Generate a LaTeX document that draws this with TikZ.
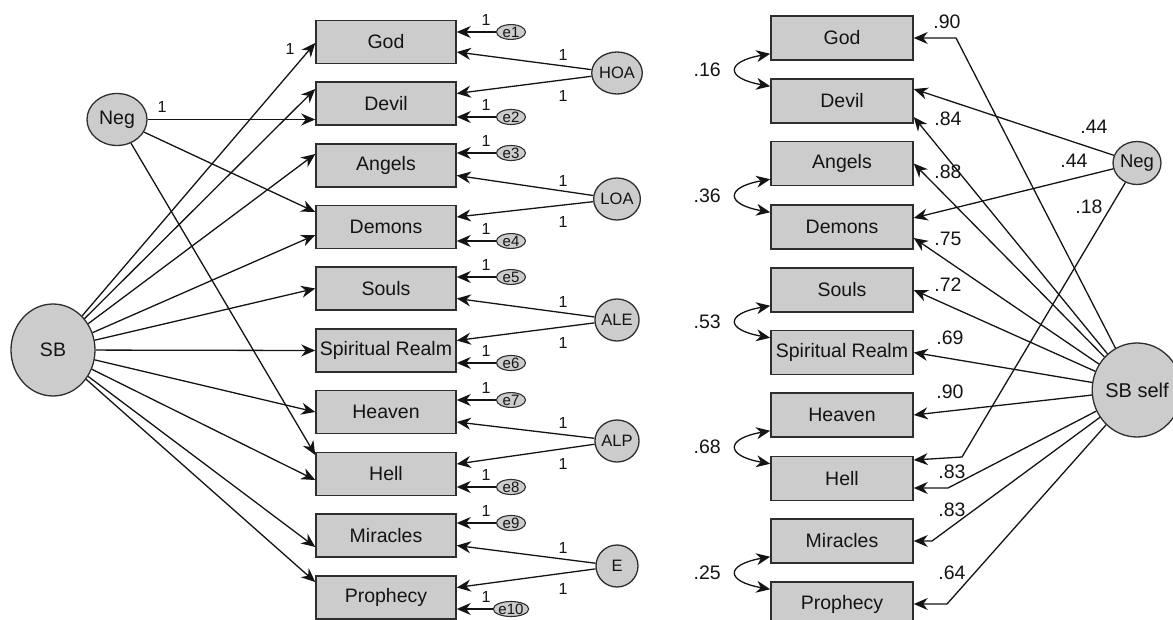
\documentclass[tikz,border=0pt]{standalone}
\usepackage{fontspec}
\setmainfont{Liberation Sans}
\usetikzlibrary{arrows.meta,shapes.geometric}
\definecolor{boxfill}{HTML}{CCCCCC}
\definecolor{edgec}{HTML}{2E2E2E}
\definecolor{ink}{HTML}{141414}
\begin{document}
\begin{tikzpicture}[x=1pt,y=-1pt,
 obs/.style={draw=edgec, line width=1.5pt, fill=boxfill, minimum width=140pt, minimum height=43pt, inner sep=0pt, font=\fontsize{19.5}{20}\selectfont, text=ink},
 robs/.style={obs, minimum width=142pt, minimum height=44pt},
 lat/.style={ellipse, draw=edgec, line width=1.3pt, fill=boxfill, inner sep=0pt, text=ink},
 fac/.style={lat, minimum width=42pt, minimum height=42pt, font=\fontsize{16.5}{17}\selectfont},
 errnode/.style={lat, minimum width=29pt, minimum height=14pt, font=\fontsize{15}{15}\selectfont, line width=1.1pt},
 arr/.style={draw=ink, line width=1.3pt, -{Stealth[length=14pt,width=12pt,inset=4.5pt]}},
 cov/.style={draw=ink, line width=1.3pt, {Stealth[length=14pt,width=12pt,inset=4.5pt]}-{Stealth[length=14pt,width=12pt,inset=4.5pt]}},
 one/.style={font=\fontsize{16}{16}\selectfont, text=ink, inner sep=0pt},
 coef/.style={font=\fontsize{19.5}{20}\selectfont, text=ink, inner sep=0pt},
]
\path[use as bounding box] (0,0) rectangle (1173,620);
\clip (0,0) rectangle (1173,620);

% ---------- left model ----------
\node[obs] (lGod) at (386,42) {God};
\node[obs] (lDevil) at (386,103.5) {Devil};
\node[obs] (lAngels) at (386,165.5) {Angels};
\node[obs] (lDemons) at (386,227) {Demons};
\node[obs] (lSouls) at (386,288.5) {Souls};
\node[obs] (lSR) at (386,350.5) {Spiritual Realm};
\node[obs] (lHeaven) at (386,412) {Heaven};
\node[obs] (lHell) at (386,474) {Hell};
\node[obs] (lMir) at (386,535.5) {Miracles};
\node[obs] (lPro) at (386,597.5) {Prophecy};

\node[lat, minimum width=84pt, minimum height=92pt, font=\fontsize{19.5}{20}\selectfont] (SB) at (53,350) {SB};
\node[lat, minimum width=60pt, minimum height=52pt, font=\fontsize{19.5}{20}\selectfont] (lNeg) at (117,119.5) {Neg};

\node[fac] (HOA) at (617,73) {HOA};
\node[fac] (LOA) at (617,199) {LOA};
\node[fac] (ALE) at (617,320) {ALE};
\node[fac] (ALP) at (617,441) {ALP};
\node[fac] (E) at (617,566) {E};

\foreach \n/\y/\b in {1/32/lGod,2/117/lDevil,3/153/lAngels,4/241/lDemons,5/277/lSouls,6/363/lSR,7/400/lHeaven,8/487/lHell,9/523/lMir,10/609/lPro}{
  \node[errnode] (e\n) at (511,\y) {e\n};
  \draw[arr] (e\n) -- (\b.east |- e\n);
  \node[one] at (486,\y-12) {1};
}

% factor loadings
\foreach \f/\a/\b in {HOA/lGod/lDevil,LOA/lAngels/lDemons,ALE/lSouls/lSR,ALP/lHeaven/lHell,E/lMir/lPro}{
  \draw[arr] (\f) -- ([yshift=-10pt]\a.east);
  \draw[arr] (\f) -- ([yshift=10pt]\b.east);
}
\foreach \y in {73,199,320,441,566}{
  \node[one] at (563,\y-18) {1};
  \node[one] at (563,\y+23) {1};
}

% SB paths
\draw[arr] (SB) -- ([yshift=-1pt]lGod.west);
\draw[arr] (SB) -- ([yshift=14.5pt]lDevil.west);
\draw[arr] (SB) -- ([yshift=11.5pt]lAngels.west);
\draw[arr] (SB) -- ([yshift=-8pt]lDemons.west);
\draw[arr] (SB) -- (lSouls.west);
\draw[arr] (SB) -- (lSR.west);
\draw[arr] (SB) -- (lHeaven.west);
\draw[arr] (SB) -- ([yshift=-6pt]lHell.west);
\draw[arr] (SB) -- ([yshift=-11.5pt]lMir.west);
\draw[arr] (SB) -- ([yshift=15.5pt]lPro.west);
\node[one] at (290,49) {1};

% Neg paths
\draw[arr] (lNeg) -- (lDevil.west |- lNeg);
\draw[arr] (lNeg) -- ([yshift=15pt]lDemons.west);
\draw[arr] (lNeg) -- ([yshift=19pt]lHell.west);
\node[one] at (162,107) {1};

% ---------- right model ----------
\node[robs] (rGod) at (842,38) {God};
\node[robs] (rDevil) at (842,101) {Devil};
\node[robs] (rAngels) at (842,163.5) {Angels};
\node[robs] (rDemons) at (842,227) {Demons};
\node[robs] (rSouls) at (842,290) {Souls};
\node[robs] (rSR) at (842,352.5) {Spiritual Realm};
\node[robs] (rHeaven) at (842,415) {Heaven};
\node[robs] (rHell) at (842,478.5) {Hell};
\node[robs] (rMir) at (842,541) {Miracles};
\node[robs] (rPro) at (842,604) {Prophecy};

\node[lat, minimum width=43pt, minimum height=43pt, font=\fontsize{18.5}{19}\selectfont] (rNeg) at (1137,163) {Neg};
\node[lat, minimum width=88pt, minimum height=94pt, font=\fontsize{20}{20}\selectfont] (SBs) at (1137,390) {SB self};

% covariances
\foreach \a/\b/\lab in {rGod/rDevil/.16,rAngels/rDemons/.36,rSouls/rSR/.53,rHeaven/rHell/.68,rMir/rPro/.25}{
  \draw[cov] ([yshift=7pt]\a.south west) .. controls +(-45,8) and +(-45,-8) .. ([yshift=-8pt]\b.north west);
  \path ([yshift=7pt]\a.south west) -- ([yshift=-8pt]\b.north west) node[coef, midway, xshift=-63pt] {\lab};
}

% elbow coordinates
\coordinate (kGod) at (956,38);
\coordinate (kHellA) at (962,457);
\coordinate (kHellB) at (948,488);
\coordinate (kMir) at (932,541);
\coordinate (kPro) at (947,604);

\draw[arr] (SBs) -- (kGod) -- (rGod.east);
\draw[arr] (rNeg) -- ([yshift=12pt]rDevil.east);
\draw[arr] (SBs) -- ([yshift=-16pt]rDevil.east);
\draw[arr] (SBs) -- (rAngels.east);
\draw[arr] (rNeg) -- ([yshift=9pt]rDemons.east);
\draw[arr] (SBs) -- ([yshift=-11pt]rDemons.east);
\draw[arr] (SBs) -- (rSouls.east);
\draw[arr] (SBs) -- (rSR.east);
\draw[arr] (SBs) -- (rHeaven.east);
\draw[arr] (rNeg) -- (kHellA) -- ([yshift=18.5pt]rHell.east);
\draw[arr] (SBs) -- (kHellB) -- ([yshift=-9.5pt]rHell.east);
\draw[arr] (SBs) -- (kMir) -- (rMir.east);
\draw[arr] (SBs) -- (kPro) -- (rPro.east);

\node[coef] at (947,22) {.90};
\node[coef] at (948,119) {.84};
\node[coef] at (948,172) {.88};
\node[coef] at (948,239) {.75};
\node[coef] at (948,285) {.72};
\node[coef] at (950,338) {.69};
\node[coef] at (950,392) {.90};
\node[coef] at (952,472) {.83};
\node[coef] at (952,510) {.83};
\node[coef] at (952,573) {.64};
\node[coef] at (1094,127) {.44};
\node[coef] at (1074,161) {.44};
\node[coef] at (1089,207) {.18};
\end{tikzpicture}
\end{document}
